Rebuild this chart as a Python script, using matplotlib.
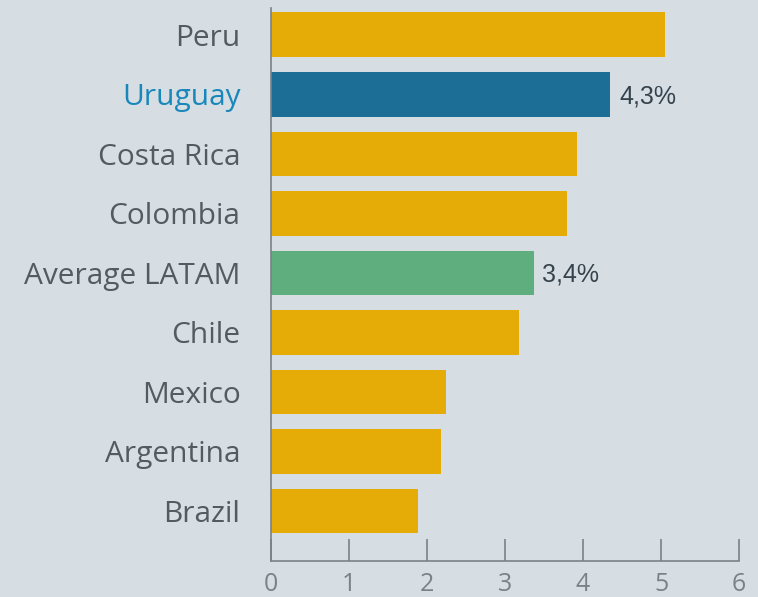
import matplotlib.pyplot as plt

countries = ["Peru", "Uruguay", "Costa Rica", "Colombia", "Average LATAM",
             "Chile", "Mexico", "Argentina", "Brazil"]
values = [5.05, 4.35, 3.92, 3.79, 3.37, 3.18, 2.24, 2.18, 1.88]
value_labels = {"Uruguay": "4,3%", "Average LATAM": "3,4%"}
x_ticks = [0, 1, 2, 3, 4, 5, 6]

BG = "#d6dee4"
GOLD = "#e5ab06"
BLUE = "#1d6e97"
GREEN = "#5fae7e"

colors = []
for c in countries:
    if c == "Uruguay":
        colors.append(BLUE)
    elif c == "Average LATAM":
        colors.append(GREEN)
    else:
        colors.append(GOLD)

plt.rcParams["font.family"] = ["Open Sans", "DejaVu Sans"]

fig = plt.figure(figsize=(7.58, 5.97), dpi=100, facecolor=BG)
ax = fig.add_axes([0.3575, 0.0603, 0.6175, 0.9263], facecolor=BG)

ypos = list(range(len(countries)))
ax.barh(ypos, values, height=0.75, color=colors)

for i, c in enumerate(countries):
    if c in value_labels:
        ax.text(values[i] + 0.11, i + 0.03, value_labels[c], va="center", ha="left",
                fontsize=18, color="#36434d",
                family=["Liberation Sans", "DejaVu Sans"])

ax.set_yticks(ypos)
ax.set_yticklabels(countries, fontsize=21.5, color="#555a5e")
for lbl in ax.get_yticklabels():
    if lbl.get_text() == "Uruguay":
        lbl.set_color("#1a87ba")
ax.tick_params(axis="y", length=0, pad=22)

ax.set_xticks(x_ticks)
ax.set_xticklabels([str(t) for t in x_ticks], fontsize=18, color="#7c8185")
ax.tick_params(axis="x", direction="in", length=16, width=1.2, color="#7c8185", pad=8)

ax.set_xlim(0, 6)
ax.set_ylim(8.84, -0.45)

for s in ["top", "right"]:
    ax.spines[s].set_visible(False)
for s in ["left", "bottom"]:
    ax.spines[s].set_color("#7c8185")
    ax.spines[s].set_linewidth(1.2)

fig.savefig("out.png", dpi=100, facecolor=BG)
